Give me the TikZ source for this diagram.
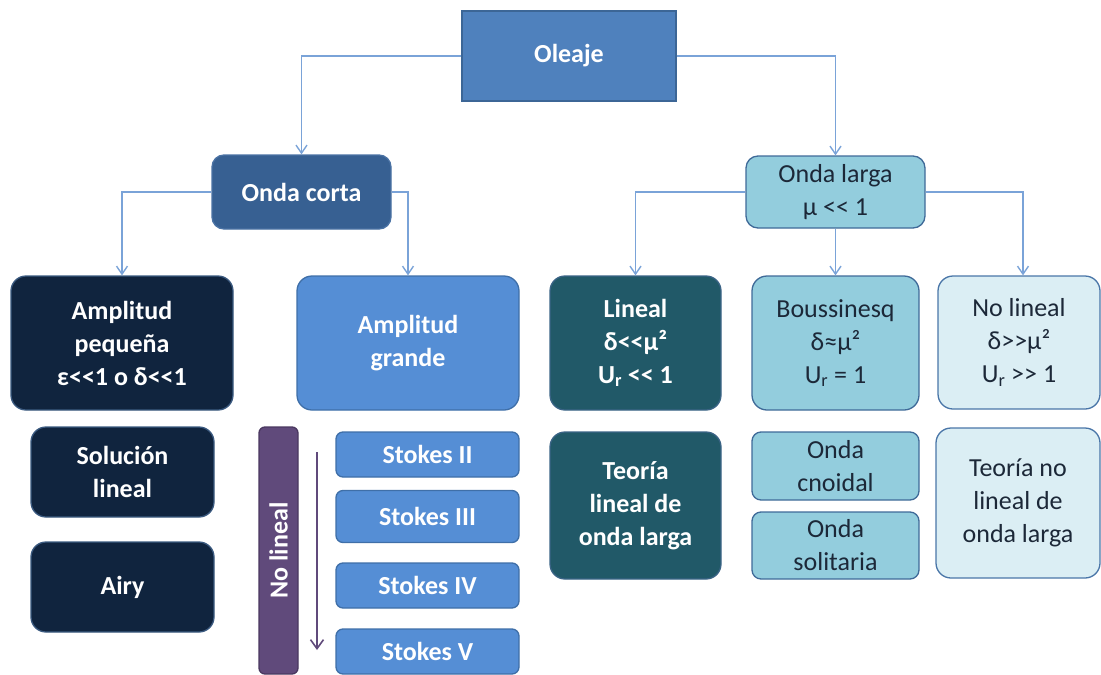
\documentclass[tikz,border=0pt]{standalone}
\usepackage{fontspec}
\setmainfont{Carlito}
\usetikzlibrary{arrows.meta}
\definecolor{oleajeC}{HTML}{4F81BD}
\definecolor{oleajeB}{HTML}{3C6696}
\definecolor{cortaC}{HTML}{376092}
\definecolor{cortaB}{HTML}{4A72A4}
\definecolor{navyC}{HTML}{10243E}
\definecolor{navyB}{HTML}{3B5A80}
\definecolor{brightC}{HTML}{558ED5}
\definecolor{brightB}{HTML}{3F6FA8}
\definecolor{purpC}{HTML}{604A7B}
\definecolor{purpB}{HTML}{4A3860}
\definecolor{tealC}{HTML}{215968}
\definecolor{tealB}{HTML}{3B6486}
\definecolor{ltealC}{HTML}{93CDDD}
\definecolor{ltealB}{HTML}{3F6A98}
\definecolor{paleC}{HTML}{DBEEF4}
\definecolor{paleB}{HTML}{4A76A8}
\definecolor{connC}{HTML}{7AA3D8}
\definecolor{darkT}{HTML}{1C2838}
\newcommand\fsz{\fontsize{26}{33}\selectfont}
\newcommand\llt{<\kern0pt<}
\newcommand\ggt{>\kern0pt>}
\tikzset{
  base/.style={align=center, inner sep=0pt, line width=1.3pt, font=\fsz},
  boldw/.style={base, font=\fsz\bfseries, text=white},
  lightt/.style={base, text=darkT},
  oleajebox/.style={boldw, fill=oleajeC, draw=oleajeB},
  cortabox/.style={boldw, fill=cortaC, draw=cortaB, rounded corners=12pt},
  navybox/.style={boldw, fill=navyC, draw=navyB, rounded corners=15pt},
  brightbox/.style={boldw, fill=brightC, draw=brightB, rounded corners=15pt},
  stokesbox/.style={boldw, fill=brightC, draw=brightB, rounded corners=7pt},
  purpbox/.style={boldw, fill=purpC, draw=purpB, rounded corners=6pt},
  tealbox/.style={boldw, fill=tealC, draw=tealB, rounded corners=15pt},
  ltealbox/.style={lightt, fill=ltealC, draw=ltealB, rounded corners=15pt},
  ltealsmall/.style={lightt, fill=ltealC, draw=ltealB, rounded corners=9pt},
  palebox/.style={lightt, fill=paleC, draw=paleB, rounded corners=15pt},
  conn/.style={draw=connC, line width=1.4pt, -{Straight Barb[length=8pt,width=11pt,line width=1.4pt]}},
  purparrow/.style={draw=purpC, line width=1.6pt, -{Straight Barb[length=9pt,width=13pt,line width=1.6pt]}}
}
\begin{document}
\begin{tikzpicture}[x=1pt,y=-1pt]
\useasboundingbox (0,0) rectangle (1101,675);
% top level
\node[oleajebox, minimum width=214pt, minimum height=90pt] (oleaje) at (569,56) {Oleaje};
\node[cortabox, minimum width=179pt, minimum height=74pt] (corta) at (301.5,192) {Onda corta};
\node[ltealbox, rounded corners=12pt, minimum width=179pt, minimum height=72pt] (larga) at (835.5,192) {Onda larga\\μ \llt{} 1};
% second level
\node[navybox, minimum width=222pt, minimum height=134pt] (amppeq) at (122,343) {Amplitud\\pequeña\\ε\llt 1 o δ\llt 1};
\node[brightbox, minimum width=222pt, minimum height=134pt] (ampgr) at (408,343) {Amplitud\\grande};
\node[tealbox, minimum width=171pt, minimum height=134pt] (lineal) at (635.5,343) {Lineal\\δ\llt μ²\\U\textsubscript{r} \llt{} 1};
\node[ltealbox, minimum width=167pt, minimum height=134pt] (bous) at (835.5,343) {Boussinesq\\δ≈μ²\\U\textsubscript{r} = 1};
\node[palebox, minimum width=162pt, minimum height=133pt] (nolin) at (1019,342.5) {No lineal\\δ\ggt μ²\\U\textsubscript{r} \ggt{} 1};
% third level
\node[navybox, minimum width=183pt, minimum height=90pt] (sol) at (122.5,472) {Solución\\lineal};
\node[navybox, minimum width=183pt, minimum height=90pt] (airy) at (122.5,587) {Airy};
\node[purpbox, minimum width=39pt, minimum height=247pt] (nlbar) at (278.5,550.5) {};
\node[boldw, rotate=90] (nltext) at (nlbar.center) {No lineal};
\node[stokesbox, minimum width=183pt, minimum height=45pt] (s2) at (427.5,454.5) {Stokes II};
\node[stokesbox, minimum width=183pt, minimum height=52pt] (s3) at (427.5,516.5) {Stokes III};
\node[stokesbox, minimum width=183pt, minimum height=45pt] (s4) at (427.5,585.5) {Stokes IV};
\node[stokesbox, minimum width=183pt, minimum height=45pt] (s5) at (427.5,651.5) {Stokes V};
\node[tealbox, minimum width=171pt, minimum height=147pt] (tlin) at (635.5,505.5) {Teoría\\lineal de\\onda larga};
\node[ltealsmall, minimum width=167pt, minimum height=68pt] (cnoi) at (835.5,466) {Onda\\cnoidal};
\node[ltealsmall, minimum width=167pt, minimum height=67pt] (soli) at (835.5,545.5) {Onda\\solitaria};
\node[palebox, minimum width=164pt, minimum height=150pt] (tnolin) at (1018,503) {Teoría no\\lineal de\\onda larga};
% connectors
\draw[conn] (oleaje.west) -| (corta.north);
\draw[conn] (oleaje.east) -| (larga.north);
\draw[conn] (corta.west) -| (amppeq.north);
\draw[conn] (corta.east) -| (ampgr.north);
\draw[conn] (larga.west) -| (lineal.north);
\draw[conn] (larga.south) -- (bous.north);
\draw[conn] (larga.east) -| ([xshift=4pt]nolin.north);
% purple arrow
\coordinate (pa1) at (317,452);
\coordinate (pa2) at (317,650);
\draw[purparrow] (pa1) -- (pa2);
\end{tikzpicture}
\end{document}
